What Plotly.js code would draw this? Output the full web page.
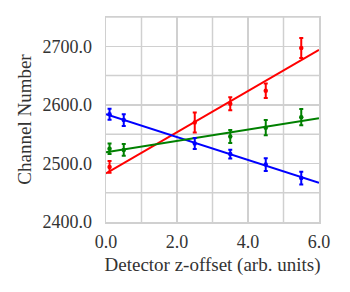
<!DOCTYPE html>
<html><head><meta charset="utf-8">
<script src="https://cdn.plot.ly/plotly-3.0.1.min.js"></script>
<style>html,body{margin:0;padding:0;background:#fff}#chart{width:350px;height:292px}</style>
</head><body><div id="chart"></div>
<script>
// Measured data
const blueX = [0.1, 0.5, 2.5, 3.5, 4.5, 5.5];
const blueY = [2584, 2574, 2534, 2516, 2498, 2475];
const blueErr = [9.5, 10, 9.5, 7.5, 11, 11];

const redX = [0.1, 2.5, 3.5, 4.5, 5.5];
const redY = [2494, 2570, 2602, 2624, 2697];
const redErr = [10, 17, 11, 12.5, 17];

const greenX = [0.1, 0.5, 3.5, 4.5, 5.5];
const greenY = [2525, 2523, 2546, 2561, 2579];
const greenErr = [9, 10, 11, 13, 14];

// Fit lines (endpoints at x=0 and x=6)
const fitX = [0, 6];
const redFit = [2483, 2694];
const blueFit = [2584, 2467];
const greenFit = [2519, 2577];

const xTicks = [0, 2, 4, 6];
const xTickText = ['0.0', '2.0', '4.0', '6.0'];
const yTicks = [2400, 2500, 2600, 2700];
const yTickText = ['2400.0', '2500.0', '2600.0', '2700.0'];

function pts(x, y, e, c) {
  return {x: x, y: y, mode: 'markers', type: 'scatter',
    marker: {color: c, size: 4.5},
    error_y: {type: 'data', array: e, visible: true, color: c, thickness: 2, width: 2},
    showlegend: false, hoverinfo: 'none'};
}
function fit(y, c) {
  return {x: fitX, y: y, mode: 'lines', type: 'scatter',
    line: {color: c, width: 2}, showlegend: false, hoverinfo: 'none'};
}
const data = [
  fit(redFit, '#ff0000'), fit(blueFit, '#0000ff'), fit(greenFit, '#008000'),
  pts(redX, redY, redErr, '#ff0000'),
  pts(greenX, greenY, greenErr, '#008000'),
  pts(blueX, blueY, blueErr, '#0000ff')
];
const font = {family: '"Liberation Serif", "DejaVu Serif", serif', color: '#333', size: 18};
const tfont = {family: '"Liberation Serif", "DejaVu Serif", serif', color: '#333', size: 19};
const layout = {
  width: 350, height: 292,
  margin: {l: 106, r: 31, t: 17, b: 70},
  paper_bgcolor: '#fff', plot_bgcolor: '#fff',
  font: font,
  xaxis: {range: [0, 6], tickvals: xTicks, ticktext: xTickText,
    showgrid: true, gridcolor: '#d0d0d0', gridwidth: 1.5,
    showline: true, linecolor: '#d0d0d0', linewidth: 1.5, mirror: true,
    zeroline: false, ticks: 'outside', ticklen: 3, tickcolor: 'rgba(0,0,0,0)',
    title: {text: 'Detector z-offset (arb. units)', font: tfont, standoff: 6},
    tickfont: font},
  yaxis: {range: [2400, 2750], tickvals: yTicks, ticktext: yTickText,
    showgrid: true, gridcolor: '#d0d0d0', gridwidth: 1.5,
    showline: true, linecolor: '#d0d0d0', linewidth: 1.5, mirror: true,
    zeroline: false, ticks: 'outside', ticklen: 9, tickcolor: 'rgba(0,0,0,0)',
    title: {text: 'Channel Number', font: tfont, standoff: 6},
    tickfont: font},
  shapes: [2450, 2550, 2650, 2750].map(v => ({type: 'line', xref: 'paper', x0: 0, x1: 1, yref: 'y', y0: v, y1: v,
    line: {color: '#d0d0d0', width: 1.5}, layer: 'below'})).concat(
    [1, 3, 5].map(v => ({type: 'line', yref: 'paper', y0: 0, y1: 1, xref: 'x', x0: v, x1: v,
    line: {color: '#d0d0d0', width: 1.5}, layer: 'below'})))
};
Plotly.newPlot('chart', data, layout, {displayModeBar: false, staticPlot: true});
</script></body></html>
